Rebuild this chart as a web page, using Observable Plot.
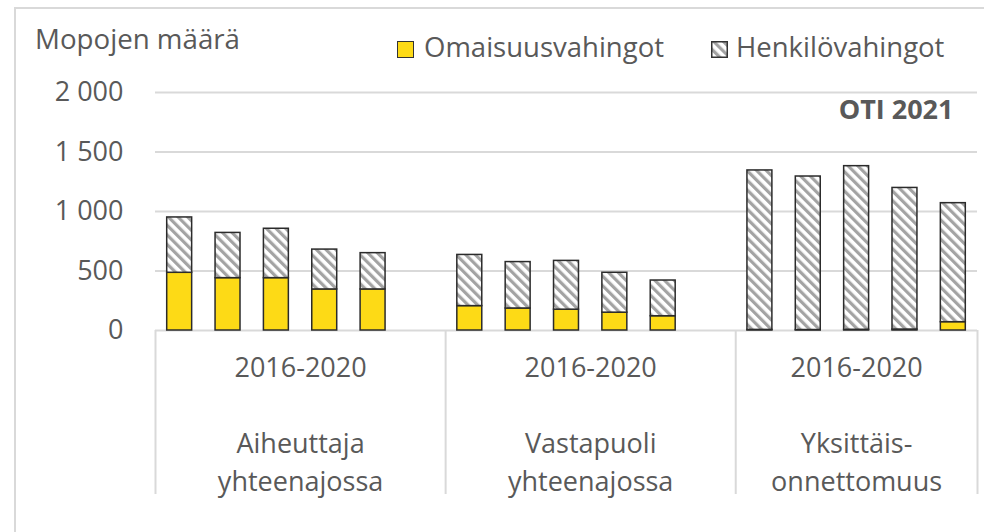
<!DOCTYPE html>
<html>
<head>
<meta charset="utf-8">
<script src="https://cdn.jsdelivr.net/npm/d3@7"></script>
<script src="https://cdn.jsdelivr.net/npm/@observablehq/plot@0.6"></script>
<style>
  html, body { margin: 0; padding: 0; background: #fff; overflow: hidden; }
  body { width: 984px; height: 532px; position: relative; font-family: "Open Sans", sans-serif; color: #595959; }
  #frame { position: absolute; left: 14px; top: 7px; width: 1100px; height: 700px; border: 2px solid #d9d9d9; box-sizing: border-box; }
  #header { position: relative; height: 70px; }
  .t { position: absolute; line-height: 1; white-space: nowrap; }
  #ytitle { left: 35px; top: 25px; font-size: 27.7px; }
  .lg { top: 33px; font-size: 27.5px; }
  .sw { position: absolute; width: 17px; height: 17px; box-sizing: border-box; border: 1.5px solid #333; }
  #chart { position: relative; }
</style>
</head>
<body>
<svg width="0" height="0" style="position:absolute">
  <defs>
    <pattern id="hatch" width="6.8" height="6.8" patternUnits="userSpaceOnUse" patternTransform="rotate(-45)">
      <rect width="6.8" height="6.8" fill="#ffffff"></rect>
      <rect x="0" y="0" width="3.2" height="6.8" fill="#a3a3a3"></rect>
    </pattern>
  </defs>
</svg>
<div id="frame"></div>
<div id="header"></div>
<div id="chart"></div>
<script>
// ---- data ----
const groupNames = ["Aiheuttaja\nyhteenajossa", "Vastapuoli\nyhteenajossa", "Yksittäis-\nonnettomuus"];
const periodLabel = "2016-2020";
// categories per group (an empty string is a blank spacer category, as in the source chart)
const categories = [
  ["2016", "2017", "2018", "2019", "2020", ""],
  ["2016", "2017", "2018", "2019", "2020", ""],
  ["2016", "2017", "2018", "2019", "2020"]
];
const seriesNames = ["Omaisuusvahingot", "Henkilövahingot"];
const omaisuusvahingot = [
  [485, 440, 440, 345, 345],
  [205, 185, 175, 150, 120],
  [5, 4, 6, 8, 70]
];
const henkilovahingot = [
  [465, 380, 415, 335, 305],
  [430, 390, 410, 335, 300],
  [1340, 1290, 1375, 1190, 1000]
];
const yTicks = [0, 500, 1000, 1500, 2000];
const yTitle = "Mopojen määrä";
const sourceNote = "OTI 2021";

// ---- build table ----
const rows = [];
const groupEdges = [0];
const groupCenters = [];
let slot = 0;
categories.forEach((cats, g) => {
  const start = slot;
  cats.forEach((c, i) => {
    if (c !== "") {
      const o = omaisuusvahingot[g][i], h = henkilovahingot[g][i];
      rows.push({group: g, year: c, slot, series: seriesNames[0], y1: 0, y2: o});
      rows.push({group: g, year: c, slot, series: seriesNames[1], y1: o, y2: o + h});
    }
    slot += 1;
  });
  groupEdges.push(slot);
  groupCenters.push({g, x: (start + slot) / 2, name: groupNames[g]});
});
const nSlots = slot;

const fmt = d3.formatLocale({decimal: ",", thousands: "\u00a0", grouping: [3], currency: ["", ""]}).format(",");

// ---- header (title + legend) ----
const header = document.getElementById("header");
header.innerHTML = `
  <div class="t" id="ytitle">${yTitle}</div>
  <div class="sw" style="left:397px;top:41px;background:#FDDA16"></div>
  <div class="t lg" style="left:424px">${seriesNames[0]}</div>
  <svg style="position:absolute;left:711px;top:41px" width="17" height="17"><rect x="0.75" y="0.75" width="15.5" height="15.5" fill="url(#hatch)" stroke="#333" stroke-width="1.5"></rect></svg>
  <div class="t lg" style="left:736px">${seriesNames[1]}</div>
`;

// ---- chart ----
const plot = Plot.plot({
  width: 984,
  height: 462,
  marginTop: 22,
  marginBottom: 202,
  marginLeft: 155,
  marginRight: 7,
  style: {fontFamily: "'Open Sans', sans-serif", fontSize: "27px", color: "#595959", background: "transparent", overflow: "visible"},
  x: {domain: [0, nSlots], axis: null},
  y: {domain: [0, 2000], axis: null},
  color: {domain: seriesNames, range: ["#FDDA16", "url(#hatch)"]},
  marks: [
    Plot.ruleY(yTicks, {y: d => d, stroke: "#d9d9d9", strokeWidth: 2}),
    Plot.axisY({ticks: yTicks, tickSize: 0, tickPadding: 32, tickFormat: fmt, fontSize: 27, fill: "#595959"}),
    Plot.ruleX(groupEdges, {x: d => d, y1: 0, y2: 0, insetBottom: -164, stroke: "#d9d9d9", strokeWidth: 2}),
    Plot.rect(rows, {
      x1: "slot", x2: d => d.slot + 1, y1: "y1", y2: "y2",
      fill: "series", stroke: "#2b2b2b", strokeWidth: 1.5,
      insetLeft: 11.7, insetRight: 11.7
    }),
    Plot.text(groupCenters, {x: "x", y: () => 0, text: () => periodLabel, dy: 38.3, fill: "#595959", fontSize: 27}),
    Plot.text(groupCenters, {x: "x", y: () => 0, text: "name", lineAnchor: "top", lineHeight: 1.4, dy: 95.5, fill: "#595959", fontSize: 27}),
    Plot.text([sourceNote], {x: () => nSlots, y: () => 2000, text: d => d, textAnchor: "end", dx: -24, dy: 18, fontWeight: "bold", fill: "#595959", fontSize: 27})
  ]
});
document.getElementById("chart").appendChild(plot);
</script>
</body>
</html>
